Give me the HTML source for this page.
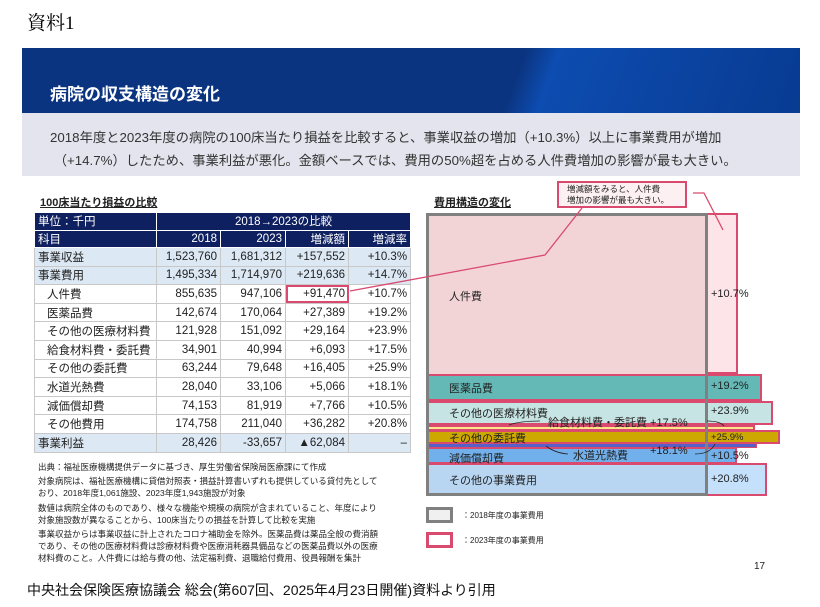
<!DOCTYPE html>
<html><head><meta charset="utf-8"><style>
*{margin:0;padding:0;box-sizing:border-box}
body{width:820px;height:607px;background:#fff;position:relative;overflow:hidden;font-family:"Liberation Sans","Noto Sans CJK JP",sans-serif;color:#222}
.a{position:absolute;white-space:nowrap}
table{border-collapse:collapse;position:absolute;left:34px;top:212px;font-size:11.5px;table-layout:fixed;width:376px}
td{border:1px solid #c8c8c8;height:18.6px;padding:0 3px;text-align:right;white-space:nowrap;overflow:visible}
tr.h td{background:#0f2060;color:#fff;border-color:#fff;height:17.5px}
tr.b td{background:#dce8f4}
td.l{text-align:left}
td.i{text-align:left;padding-left:12px}
.seg{position:absolute}
</style></head><body>
<div class="a" style="left:27px;top:8px;font-family:'Liberation Serif','Noto Serif CJK SC',serif;font-size:19px;color:#000">資料1</div>
<div class="a" style="left:22px;top:48px;width:778px;height:65px;background:linear-gradient(110deg,#0b3480 0%,#0b3480 63%,#0d4cb0 67%,#083b92 100%)"></div>
<div class="a" style="left:50px;top:80px;font-size:17px;font-weight:bold;color:#fff">病院の収支構造の変化</div>
<div class="a" style="left:22px;top:113px;width:778px;height:63px;background:#e4e4ee"></div>
<div class="a" style="left:50px;top:126px;font-size:13.3px;color:#333;line-height:23px">2018年度と2023年度の病院の100床当たり損益を比較すると、事業収益の増加（+10.3%）以上に事業費用が増加<br>&nbsp;（+14.7%）したため、事業利益が悪化。金額ベースでは、費用の50%超を占める人件費増加の影響が最も大きい。</div>
<div class="a" style="left:40px;top:194px;font-size:11px;font-weight:bold;text-decoration:underline">100床当たり損益の比較</div>
<table>
<colgroup><col style="width:122px"><col style="width:64px"><col style="width:65px"><col style="width:63px"><col style="width:62px"></colgroup>
<tr class="h"><td class="l">単位：千円</td><td colspan="4" style="text-align:center">2018→2023の比較</td></tr>
<tr class="h"><td class="l">科目</td><td>2018</td><td>2023</td><td>増減額</td><td>増減率</td></tr>
<tr class="b"><td class="l">事業収益</td><td>1,523,760</td><td>1,681,312</td><td>+157,552</td><td>+10.3%</td></tr>
<tr class="b"><td class="l">事業費用</td><td>1,495,334</td><td>1,714,970</td><td>+219,636</td><td>+14.7%</td></tr>
<tr><td class="i">人件費</td><td>855,635</td><td>947,106</td><td style="outline:2px solid #d94a6e;outline-offset:-2px">+91,470</td><td>+10.7%</td></tr>
<tr><td class="i">医薬品費</td><td>142,674</td><td>170,064</td><td>+27,389</td><td>+19.2%</td></tr>
<tr><td class="i">その他の医療材料費</td><td>121,928</td><td>151,092</td><td>+29,164</td><td>+23.9%</td></tr>
<tr><td class="i">給食材料費・委託費</td><td>34,901</td><td>40,994</td><td>+6,093</td><td>+17.5%</td></tr>
<tr><td class="i">その他の委託費</td><td>63,244</td><td>79,648</td><td>+16,405</td><td>+25.9%</td></tr>
<tr><td class="i">水道光熱費</td><td>28,040</td><td>33,106</td><td>+5,066</td><td>+18.1%</td></tr>
<tr><td class="i">減価償却費</td><td>74,153</td><td>81,919</td><td>+7,766</td><td>+10.5%</td></tr>
<tr><td class="i">その他費用</td><td>174,758</td><td>211,040</td><td>+36,282</td><td>+20.8%</td></tr>
<tr class="b"><td class="l">事業利益</td><td>28,426</td><td>-33,657</td><td>▲62,084</td><td>–</td></tr>
</table>
<div class="a" style="left:38px;top:461px;font-size:8.5px;line-height:12.2px;color:#222">出典：福祉医療機構提供データに基づき、厚生労働省保険局医療課にて作成<br><span style="display:block;height:2px"></span>対象病院は、福祉医療機構に貸借対照表・損益計算書いずれも提供している貸付先として<br>おり、2018年度1,061施設、2023年度1,943施設が対象<br><span style="display:block;height:2px"></span>数値は病院全体のものであり、様々な機能や規模の病院が含まれていること、年度により<br>対象施設数が異なることから、100床当たりの損益を計算して比較を実施<br><span style="display:block;height:2px"></span>事業収益からは事業収益に計上されたコロナ補助金を除外。医薬品費は薬品全般の費消額<br>であり、その他の医療材料費は診療材料費や医療消耗器具備品などの医薬品費以外の医療<br>材料費のこと。人件費には給与費の他、法定福利費、退職給付費用、役員報酬を集計</div>
<div class="a" style="left:434px;top:194px;font-size:11px;font-weight:bold;text-decoration:underline">費用構造の変化</div>
<div class="seg" style="left:426px;top:213px;width:312px;height:161px;background:#fde4e8;border:2px solid #d94a6e"></div>
<div class="seg" style="left:426px;top:213px;width:281px;height:161px;background:#f2d4d7"></div>
<div class="seg" style="left:426px;top:374px;width:336px;height:27px;background:#64b8b6;border:2px solid #d94a6e"></div>
<div class="seg" style="left:426px;top:401px;width:347px;height:24px;background:#c6e4e3;border:2px solid #d94a6e"></div>
<div class="seg" style="left:426px;top:425px;width:329px;height:6px;background:#fde68a;border:2px solid #d94a6e"></div>
<div class="seg" style="left:426px;top:430px;width:354px;height:14px;background:#cca800;border:2px solid #d94a6e"></div>
<div class="seg" style="left:426px;top:443px;width:331px;height:5px;background:#5560c8;border:1px solid #d94a6e"></div>
<div class="seg" style="left:426px;top:447px;width:311px;height:17px;background:#72b0ec;border:2px solid #d94a6e"></div>
<div class="seg" style="left:426px;top:463px;width:341px;height:33px;background:#b8d6f2;border:2px solid #d94a6e"></div>
<div class="seg" style="left:707px;top:465px;width:58px;height:29px;background:#c4e0fa"></div>
<div class="seg" style="left:426px;top:213px;width:282px;height:283px;border:3px solid #808080"></div>
<div class="a" style="left:449px;top:288px;font-size:11px">人件費</div>
<div class="a" style="left:711px;top:288px;font-size:11px">+10.7%</div>
<div class="a" style="left:449px;top:380px;font-size:11px">医薬品費</div>
<div class="a" style="left:711px;top:380px;font-size:11px">+19.2%</div>
<div class="a" style="left:449px;top:405px;font-size:11px">その他の医療材料費</div>
<div class="a" style="left:711px;top:405px;font-size:11px">+23.9%</div>
<div class="a" style="left:548px;top:414px;font-size:11px">給食材料費・委託費 +17.5%</div>
<div class="a" style="left:449px;top:430px;font-size:11px">その他の委託費</div>
<div class="a" style="left:711px;top:432px;font-size:9.5px">+25.9%</div>
<div class="a" style="left:449px;top:450px;font-size:11px">減価償却費</div>
<div class="a" style="left:573px;top:447px;font-size:11px">水道光熱費</div>
<div class="a" style="left:650px;top:445px;font-size:11px">+18.1%</div>
<div class="a" style="left:711px;top:450px;font-size:11px">+10.5%</div>
<div class="a" style="left:449px;top:472px;font-size:11px">その他の事業費用</div>
<div class="a" style="left:711px;top:473px;font-size:11px">+20.8%</div>
<div class="a" style="left:557px;top:181px;width:130px;height:27px;background:#fdf0f2;border:2px solid #d94a6e;font-size:8.5px;line-height:11px;padding:1px 0 0 8px">増減額をみると、人件費<br>増加の影響が最も大きい。</div>
<svg class="a" style="left:0;top:0" width="820" height="607">
<polyline points="350,291 545,255 582,208" fill="none" stroke="#d94a6e" stroke-width="1.3"/>
<polyline points="693,193 704,193 723,230" fill="none" stroke="#d94a6e" stroke-width="1.3"/>
<path d="M509,425 Q520,421 540,421 M707,421 Q720,421 724,426 M546,446 Q555,453 568,454 M695,454 Q710,454 715,444" fill="none" stroke="#222" stroke-width="0.8"/>
</svg>
<div class="a" style="left:426px;top:507px;width:27px;height:16px;background:#f0f0f0;border:3px solid #808080"></div>
<div class="a" style="left:462px;top:510px;font-size:8px">：2018年度の事業費用</div>
<div class="a" style="left:426px;top:532px;width:27px;height:16px;background:#fff;border:3px solid #d94a6e"></div>
<div class="a" style="left:462px;top:535px;font-size:8px">：2023年度の事業費用</div>
<div class="a" style="left:754px;top:561px;font-size:10px">17</div>
<div class="a" style="left:27px;top:580px;font-size:14px;color:#111">中央社会保険医療協議会 総会(第607回、2025年4月23日開催)資料より引用</div>
</body></html>
